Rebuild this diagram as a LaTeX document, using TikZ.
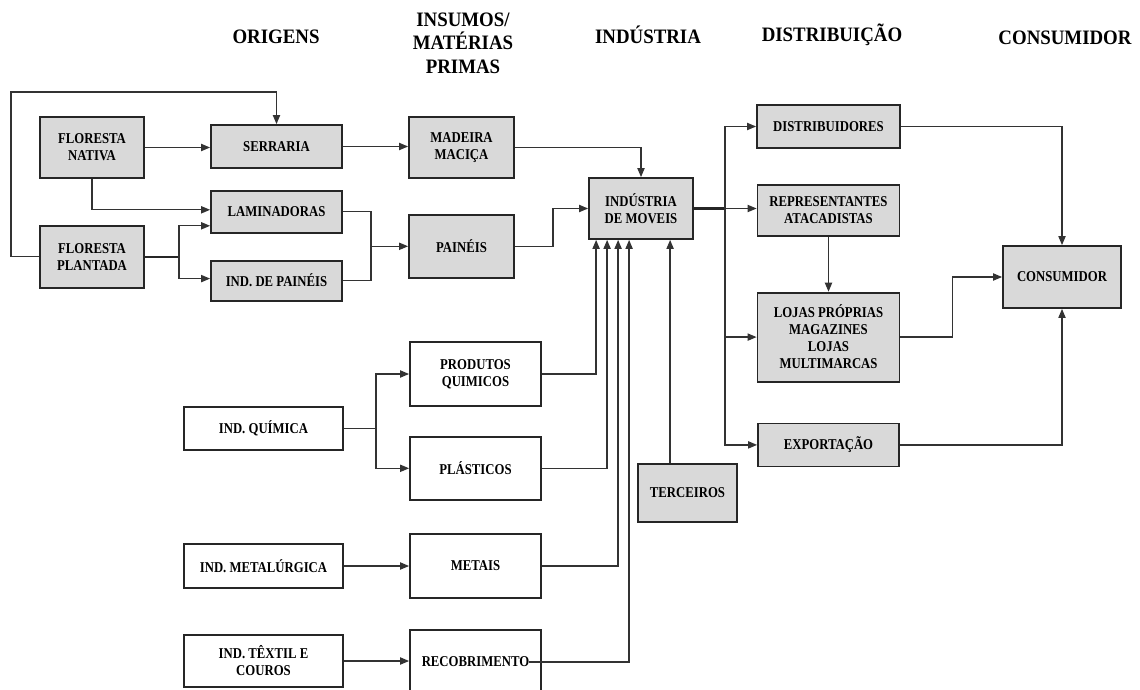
\documentclass[tikz,border=0pt]{standalone}
\usepackage{fontspec}
\setmainfont{Liberation Serif}[FakeStretch=0.85]
\newfontfamily\hdfont{Liberation Serif}[FakeStretch=0.92]
\usetikzlibrary{arrows.meta,positioning,calc}
\definecolor{boxgray}{HTML}{D9D9D9}
\newcommand{\boxfont}{\fontsize{7.5pt}{8.5pt}\selectfont\bfseries}
\newcommand{\headfont}{\hdfont\bfseries\fontsize{10.25pt}{11.75pt}\selectfont}

\begin{document}
\begin{tikzpicture}[
  x=0.5pt,y=-0.5pt,>={Triangle[length=4.5pt,width=3.6pt]},
  box/.style={draw=black!85,line width=0.9pt,fill=boxgray,align=center,inner sep=1pt,font=\boxfont},
  wbox/.style={box,fill=white},
  head/.style={align=center,inner sep=0pt,font=\headfont},
  link/.style={draw=black!80,line width=0.65pt},
  trunk/.style={draw=black!85,line width=1.2pt}]
  \path[use as bounding box,fill=white] (0,0) rectangle (1140,690);

  \node[head] (hOrig) at (276,37) {ORIGENS};
  \node[head] (hIns) at (463,43) {INSUMOS/\\MATÉRIAS\\PRIMAS};
  \node[head] (hInd) at (648,35) {INDÚSTRIA};
  \node[head] (hDist) at (832,35) {DISTRIBUIÇÃO};
  \node[head] (hCons) at (1065,38) {CONSUMIDOR};

  \node[box,minimum width=52pt,minimum height=30.5pt] (fn) at (92,147.5) {FLORESTA\\NATIVA};
  \node[box,minimum width=52pt,minimum height=31pt,below=23pt of fn] (fp) {FLORESTA\\PLANTADA};
  \node[box,minimum width=65.5pt,minimum height=21.5pt] (serr) at (276.5,146.5) {SERRARIA};
  \node[box,minimum width=65.5pt,minimum height=21pt,below=10.5pt of serr] (lam) {LAMINADORAS};
  \node[box,minimum width=65.5pt,minimum height=20pt,below=13pt of lam] (indp) {IND. DE PAINÉIS};
  \node[box,minimum width=52.5pt,minimum height=30.5pt] (mad) at (461.5,147.5) {MADEIRA\\MACIÇA};
  \node[box,minimum width=52.5pt,minimum height=31.5pt,below=17.5pt of mad] (pain) {PAINÉIS};
  \node[box,minimum width=52pt,minimum height=30.5pt] (ind) at (641,208.5) {INDÚSTRIA\\DE MOVEIS};

  \node[box,minimum width=71.5pt,minimum height=21.5pt] (dist) at (828.5,126.5) {DISTRIBUIDORES};
  \node[box,minimum width=71pt,minimum height=25.5pt,below=17.5pt of dist] (rep) {REPRESENTANTES\\ATACADISTAS};
  \node[box,minimum width=71pt,minimum height=44.5pt,below=27.5pt of rep] (lojas) {LOJAS PRÓPRIAS\\MAGAZINES\\LOJAS\\MULTIMARCAS};
  \node[box,minimum width=70.5pt,minimum height=21.5pt,below=20pt of lojas] (exp) {EXPORTAÇÃO};
  \node[box,minimum width=59pt,minimum height=31pt] (cons) at (1062,277) {CONSUMIDOR};

  \node[wbox,minimum width=79.5pt,minimum height=21.5pt] (iq) at (263.5,428.5) {IND. QUÍMICA};
  \node[wbox,minimum width=79.5pt,minimum height=22pt] (imet) at (263.5,566) {IND. METALÚRGICA};
  \node[wbox,minimum width=79.5pt,minimum height=26pt] (itex) at (263.5,661) {IND. TÊXTIL E\\COUROS};
  \node[wbox,minimum width=65.5pt,minimum height=32pt] (prod) at (475.5,374) {PRODUTOS\\QUIMICOS};
  \node[wbox,minimum width=65.5pt,minimum height=31.5pt,below=14.5pt of prod] (plast) {PLÁSTICOS};
  \node[wbox,minimum width=65.5pt,minimum height=32pt] (met) at (475.5,566) {METAIS};
  \node[wbox,minimum width=65.5pt,minimum height=32pt] (rec) at (475.5,662) {RECOBRIMENTO};
  \node[box,minimum width=49.5pt,minimum height=29pt] (terc) at (687.5,493) {TERCEIROS};

  \draw[link,->] (fp.west) -- ++(-28,0) |- ($(serr.north)+(0,-32)$) -- (serr.north);
  \draw[link,->] (fn.east) -- (fn.east -| serr.west);
  \draw[link,->] (fn.south) |- ($(lam.west)+(0,-2)$);
  \draw[trunk] (fp.east) -- ++(34,0) coordinate (fpj);
  \draw[link,->] (fpj) |- ($(lam.west)+(0,14)$);
  \draw[link,->] (fpj) |- ($(indp.west)+(0,-2)$);
  \draw[link] (lam.east) -- ++(28,0) coordinate (lpj) |- (indp.east);
  \draw[link,->] (lpj |- pain.west) -- (pain.west);
  \draw[link,->] (serr.east) -- (serr.east -| mad.west);
  \draw[link,->] (mad.east) -| (ind.north);
  \draw[link,->] (pain.east) -- ++(38,0) |- (ind.west);

  \draw[trunk] (ind.east) -- ++(31,0) coordinate (bus);
  \draw[link,->] (bus) |- (dist.west);
  \draw[link,->] (bus) -- (bus -| rep.west);
  \draw[link,->] (bus) |- (lojas.west);
  \draw[link,->] (bus) |- (exp.west);
  \draw[link,->] (dist.east) -| (cons.north);
  \draw[link,->] (rep.south) -- (lojas.north);
  \draw[link,->] (lojas.east) -- ++(52,0) |- (cons.west);
  \draw[link,->] (exp.east) -| (cons.south);

  \draw[link] (iq.east) -- ++(32,0) coordinate (iqj);
  \draw[link,->] (iqj) |- (prod.west);
  \draw[link,->] (iqj) |- (plast.west);
  \draw[link,->] (imet.east) -- (met.west);
  \draw[link,->] (itex.east) -- (itex.east -| rec.west);
  \draw[link,->] (prod.east) -| ($(ind.south west)+(8,0)$);
  \draw[link,->] (plast.east) -| ($(ind.south west)+(19,0)$);
  \draw[link,->] (met.east) -| ($(ind.south west)+(30,0)$);
  \draw[link,->] ($(rec.east)+(-13,0)$) -| ($(ind.south west)+(41,0)$);
  \draw[link,->] ($(terc.north west)+(33,0)$) -- ($(ind.south west)+(82,0)$);
\end{tikzpicture}
\end{document}
